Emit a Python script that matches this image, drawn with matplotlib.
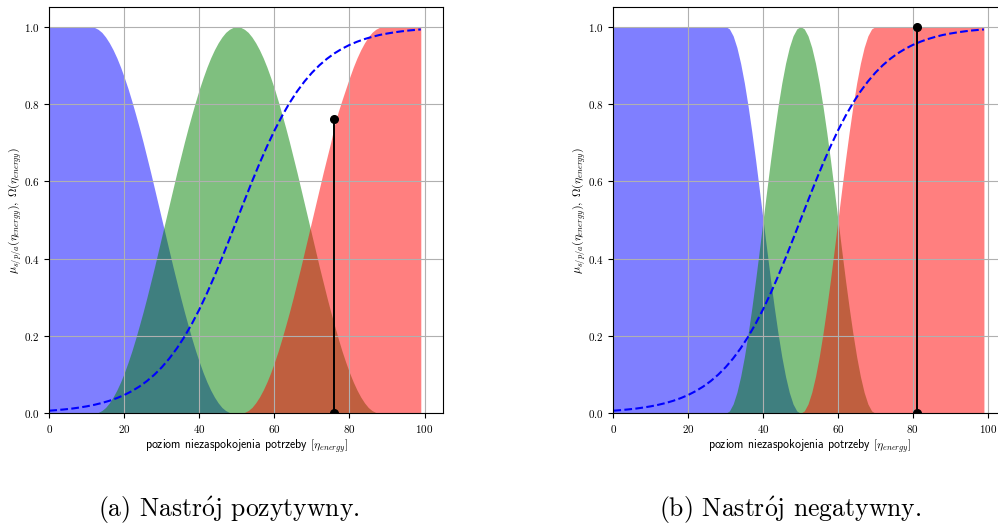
import matplotlib
matplotlib.use('Agg')
import matplotlib.pyplot as plt

plt.rcParams['font.family'] = 'serif'
plt.rcParams['font.serif'] = ['cmr10']
plt.rcParams['mathtext.fontset'] = 'cm'
plt.rcParams['axes.formatter.use_mathtext'] = True

# poziom niezaspokojenia potrzeby
x = list(range(100))
x_omega = list(range(0, 100, 2)) + [99]

# funkcja aktywacji (sigmoida) - taka sama na obu wykresach
omega = [0.0067, 0.0082, 0.0100, 0.0121, 0.0148, 0.0180, 0.0219, 0.0266, 0.0323, 0.0392,
         0.0474, 0.0573, 0.0691, 0.0832, 0.0998, 0.1192, 0.1419, 0.1680, 0.1978, 0.2315,
         0.2689, 0.3100, 0.3543, 0.4013, 0.4502, 0.5000, 0.5498, 0.5987, 0.6457, 0.6900,
         0.7311, 0.7685, 0.8022, 0.8320, 0.8581, 0.8808, 0.9002, 0.9168, 0.9309, 0.9427,
         0.9526, 0.9608, 0.9677, 0.9734, 0.9783, 0.9820, 0.9852, 0.9879, 0.9901, 0.9918,
         0.9926]

# (a) nastroj pozytywny
pos_s = [1.0] * 12 + [0.998, 0.993, 0.985, 0.973, 0.958, 0.940, 0.919, 0.895, 0.868, 0.839,
                      0.807, 0.773, 0.738, 0.701, 0.662, 0.623, 0.582, 0.541, 0.5, 0.459,
                      0.418, 0.377, 0.338, 0.299, 0.262, 0.227, 0.193, 0.161, 0.132, 0.105,
                      0.081, 0.060, 0.042, 0.027, 0.015, 0.007, 0.002] + [0.0] * 51
pos_p = [0.0] * 13 + [0.002, 0.007, 0.015, 0.027, 0.042, 0.060, 0.081, 0.105, 0.132, 0.161,
                      0.193, 0.227, 0.262, 0.299, 0.338, 0.377, 0.418, 0.459, 0.5, 0.541,
                      0.582, 0.623, 0.662, 0.701, 0.738, 0.773, 0.807, 0.839, 0.868, 0.895,
                      0.919, 0.940, 0.958, 0.973, 0.985, 0.993, 0.998, 1.0,
                      0.998, 0.993, 0.985, 0.973, 0.958, 0.940, 0.919, 0.895, 0.868, 0.839,
                      0.807, 0.773, 0.738, 0.701, 0.662, 0.623, 0.582, 0.541, 0.5, 0.459,
                      0.418, 0.377, 0.338, 0.299, 0.262, 0.227, 0.193, 0.161, 0.132, 0.105,
                      0.081, 0.060, 0.042, 0.027, 0.015, 0.007, 0.002] + [0.0] * 12
pos_a = [0.0] * 52 + [0.002, 0.007, 0.015, 0.027, 0.042, 0.060, 0.081, 0.105, 0.132, 0.161,
                      0.193, 0.227, 0.262, 0.299, 0.338, 0.377, 0.418, 0.459, 0.5, 0.541,
                      0.582, 0.623, 0.662, 0.701, 0.745, 0.780, 0.810, 0.839, 0.868, 0.895,
                      0.919, 0.940, 0.958, 0.973, 0.985, 0.993, 0.998] + [1.0] * 11
pos_eta, pos_mu = 76, 0.76

# (b) nastroj negatywny
neg_s = [1.0] * 31 + [0.994, 0.976, 0.946, 0.905, 0.854, 0.794, 0.727, 0.655, 0.578, 0.5,
                      0.422, 0.345, 0.273, 0.206, 0.146, 0.095, 0.054, 0.024, 0.006] + [0.0] * 50
neg_p = [0.0] * 31 + [0.006, 0.024, 0.054, 0.095, 0.146, 0.206, 0.273, 0.345, 0.422, 0.5,
                      0.578, 0.655, 0.727, 0.794, 0.854, 0.905, 0.946, 0.976, 0.994, 1.0,
                      0.994, 0.976, 0.946, 0.905, 0.854, 0.794, 0.727, 0.655, 0.578, 0.5,
                      0.422, 0.345, 0.273, 0.206, 0.146, 0.095, 0.054, 0.024, 0.006] + [0.0] * 30
neg_a = [0.0] * 51 + [0.006, 0.024, 0.054, 0.095, 0.146, 0.206, 0.273, 0.345, 0.422, 0.5,
                      0.578, 0.655, 0.727, 0.794, 0.854, 0.905, 0.946, 0.976, 0.994] + [1.0] * 30
neg_eta, neg_mu = 81, 1.0

panels = [
    (pos_s, pos_p, pos_a, pos_eta, pos_mu, [0.0494, 0.2143, 0.3948, 0.7719],
     0.229, r'(a) Nastr$\acute{\rm o}$j pozytywny.'),
    (neg_s, neg_p, neg_a, neg_eta, neg_mu, [0.6146, 0.2143, 0.3938, 0.7719],
     0.792, r'(b) Nastr$\acute{\rm o}$j negatywny.'),
]

fig = plt.figure(figsize=(9.98, 5.26), dpi=100)

for s, p, a, eta, mu, rect, cx, caption in panels:
    ax = fig.add_axes(rect)
    ax.fill_between(x, s, color='b', alpha=0.5, linewidth=0)
    ax.fill_between(x, p, color='g', alpha=0.5, linewidth=0)
    ax.fill_between(x, a, color='r', alpha=0.5, linewidth=0)
    ax.plot(x_omega, omega, 'b--', linewidth=1.5)
    ax.plot([eta, eta], [0, mu], 'k-o', linewidth=1.4, markersize=5.5)
    ax.set_xlim(0, 105)
    ax.set_ylim(0, 1.05)
    ax.set_xticks([0, 20, 40, 60, 80, 100])
    ax.set_yticks([0.0, 0.2, 0.4, 0.6, 0.8, 1.0])
    ax.tick_params(labelsize=8, length=3.5)
    ax.grid(True)
    ax.set_xlabel(r'poziom niezaspokojenia potrzeby $[\eta_{energy}]$',
                  fontsize=8.5, family='cmss10', labelpad=2)
    ax.set_ylabel(r'$\mu_{s/p/a}(\eta_{energy}),\ \Omega(\eta_{energy})$',
                  fontsize=8.5, labelpad=0.5)
    fig.text(cx, 0.03, caption, fontsize=18.5, ha='center', va='center')

fig.savefig('out.png', dpi=100)
